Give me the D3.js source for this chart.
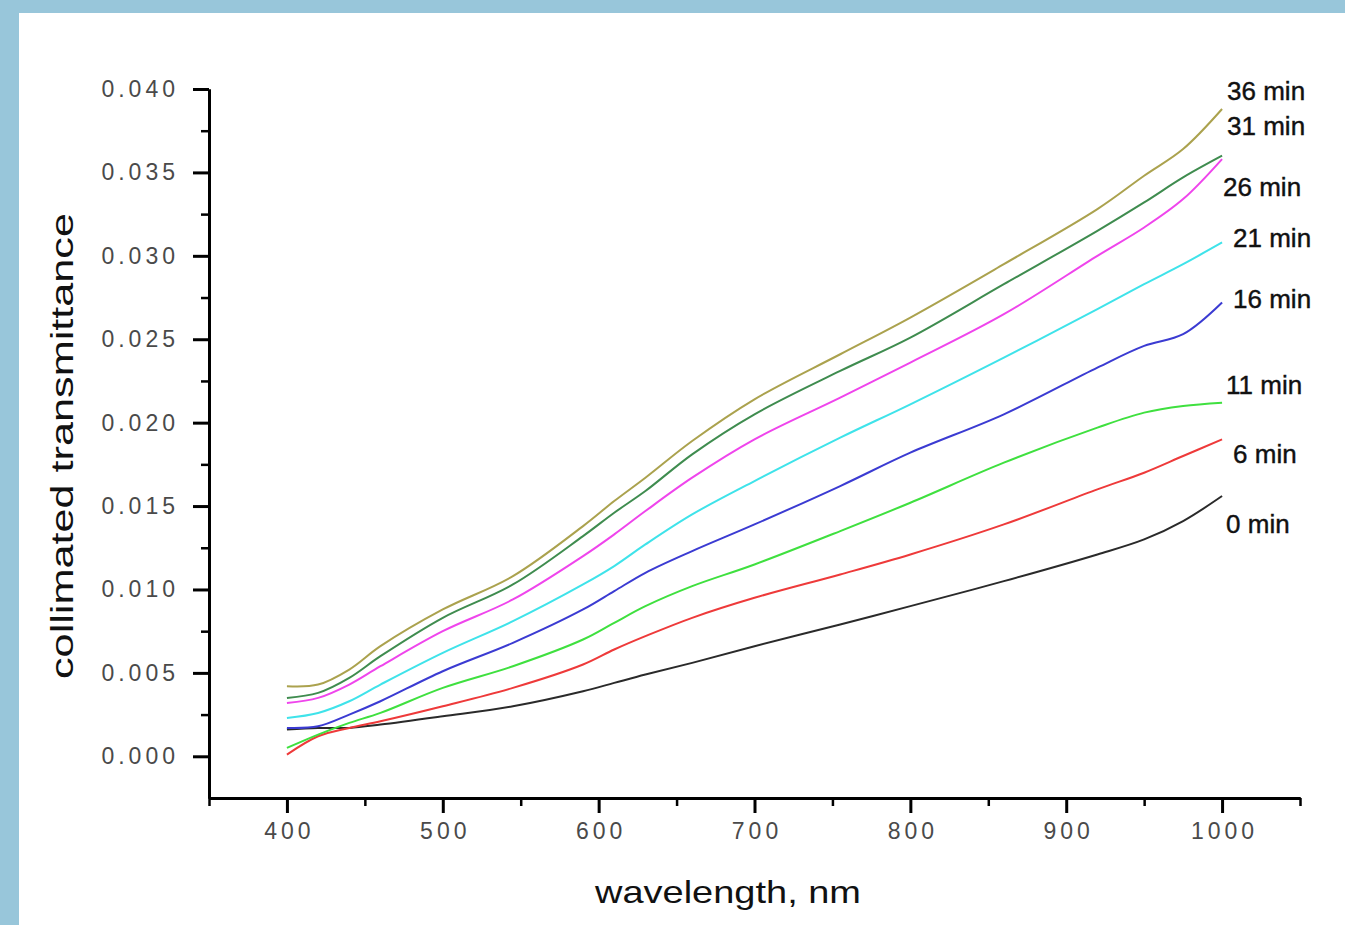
<!DOCTYPE html>
<html>
<head>
<meta charset="utf-8">
<script src="https://cdn.jsdelivr.net/npm/d3@7"></script>
<style>
  body { margin: 0; background: #fff; }
  svg { display: block; }
  .ticklabel { font-family: "Liberation Sans", Arial, sans-serif; font-size: 23px; fill: #4a4a4a; letter-spacing: 4px; }
  .title { font-family: "Liberation Sans", Arial, sans-serif; font-size: 32px; fill: #111; }
  .serieslabel { font-family: "Liberation Sans", Arial, sans-serif; font-size: 26px; fill: #111; stroke: #111; stroke-width: 0.4px; }
</style>
</head>
<body>
<script>
// wavelength, nm
var wavelengths = [400, 420, 440, 460, 500, 545, 590, 610, 630, 660, 700, 755, 800, 860, 920, 950, 975, 1000];

// collimated transmittance, one list per exposure time
var t36 = [0.0042, 0.0043, 0.0052, 0.0066, 0.0088, 0.0108, 0.0138, 0.0153, 0.0167, 0.0189, 0.0214, 0.0241, 0.0263, 0.0295, 0.0328, 0.0348, 0.0364, 0.0388];
var t31 = [0.0035, 0.0038, 0.0047, 0.0060, 0.0083, 0.0103, 0.0132, 0.0146, 0.0159, 0.0181, 0.0205, 0.0231, 0.0251, 0.0283, 0.0315, 0.0332, 0.0347, 0.0360];
var t26 = [0.0032, 0.0035, 0.0043, 0.0054, 0.0075, 0.0094, 0.0120, 0.0133, 0.0147, 0.0167, 0.0190, 0.0215, 0.0236, 0.0265, 0.0300, 0.0317, 0.0334, 0.0358];
var t21 = [0.0023, 0.0026, 0.0033, 0.0043, 0.0062, 0.0081, 0.0103, 0.0114, 0.0127, 0.0145, 0.0165, 0.0191, 0.0211, 0.0239, 0.0268, 0.0283, 0.0295, 0.0308];
var t16 = [0.0017, 0.0018, 0.0025, 0.0033, 0.0051, 0.0068, 0.0088, 0.0099, 0.0110, 0.0123, 0.0139, 0.0162, 0.0182, 0.0205, 0.0233, 0.0246, 0.0253, 0.0272];
var t11 = [0.0005, 0.0013, 0.0020, 0.0026, 0.0041, 0.0054, 0.0070, 0.0080, 0.0090, 0.0102, 0.0115, 0.0135, 0.0152, 0.0176, 0.0197, 0.0206, 0.0210, 0.0212];
var t6  = [0.0001, 0.0012, 0.0017, 0.0021, 0.0030, 0.0041, 0.0055, 0.0064, 0.0072, 0.0083, 0.0095, 0.0109, 0.0121, 0.0139, 0.0160, 0.0170, 0.0180, 0.0190];
var t0  = [0.0016, 0.0017, 0.0017, 0.0019, 0.0024, 0.0030, 0.0039, 0.0044, 0.0049, 0.0056, 0.0066, 0.0079, 0.0090, 0.0105, 0.0121, 0.0130, 0.0141, 0.0156];

var seriesNames = ["36 min", "31 min", "26 min", "21 min", "16 min", "11 min", "6 min", "0 min"];
var seriesValues = [t36, t31, t26, t21, t16, t11, t6, t0];
var seriesColors = ["#aba24e", "#3f8c4f", "#ef45ec", "#3fe3ea", "#3b3bd2", "#3fe03f", "#ee3a3a", "#2a2a2a"];

var xTicks = [400, 500, 600, 700, 800, 900, 1000];
var xMinorTicks = [350, 450, 550, 650, 750, 850, 950, 1050];
var yTicks = [0, 0.005, 0.010, 0.015, 0.020, 0.025, 0.030, 0.035, 0.040];
var yMinorTicks = [0.0025, 0.0075, 0.0125, 0.0175, 0.0225, 0.0275, 0.0325, 0.0375];

var svg = d3.select("body").append("svg")
    .attr("width", 1345)
    .attr("height", 925);

// blue frame of the original picture
svg.append("rect").attr("width", 1345).attr("height", 925).attr("fill", "#98c6da");
svg.append("rect").attr("x", 19).attr("y", 13).attr("width", 1326).attr("height", 912).attr("fill", "#fff");

var margin = { top: 89, right: 45, bottom: 127, left: 209 },
    width = 1345 - margin.left - margin.right,
    height = 925 - margin.top - margin.bottom,
    g = svg.append("g").attr("transform", "translate(" + margin.left + "," + margin.top + ")");

var x = d3.scaleLinear().domain([350, 1050]).range([0, width]);
var y = d3.scaleLinear().domain([-0.0025, 0.040]).range([height, 0]);

var line = d3.line()
    .x(function (d) { return x(d[0]); })
    .y(function (d) { return y(d[1]); })
    .curve(d3.curveCatmullRom.alpha(0.5));

var series = seriesNames.map(function (name, i) {
    return {
        name: name,
        color: seriesColors[i],
        points: wavelengths.map(function (w, j) { return [w, seriesValues[i][j]]; })
    };
});

g.selectAll(".series")
    .data(series.slice().reverse())
    .enter().append("path")
    .attr("class", "series")
    .attr("fill", "none")
    .attr("stroke", function (d) { return d.color; })
    .attr("stroke-width", 2)
    .attr("d", function (d) { return line(d.points); });

// axes
function styleAxis(sel, w) {
    sel.select(".domain").attr("stroke", "#000").attr("stroke-width", 3);
    sel.selectAll(".tick line").attr("stroke", "#000").attr("stroke-width", w);
}

var yAxis = g.append("g")
    .call(d3.axisLeft(y).tickValues(yTicks).tickSize(16).tickSizeOuter(0).tickPadding(14)
        .tickFormat(d3.format(".3f")));
styleAxis(yAxis, 3);
yAxis.selectAll("text").attr("class", "ticklabel").attr("font-family", null).attr("font-size", null).attr("fill", null);

var yMinor = g.append("g")
    .call(d3.axisLeft(y).tickValues(yMinorTicks).tickSize(8).tickSizeOuter(0).tickFormat(""));
styleAxis(yMinor, 2.5);

var xAxis = g.append("g")
    .attr("transform", "translate(0," + height + ")")
    .call(d3.axisBottom(x).tickValues(xTicks).tickSize(15).tickSizeOuter(0).tickPadding(10)
        .tickFormat(d3.format("d")));
styleAxis(xAxis, 3);
xAxis.selectAll("text").attr("class", "ticklabel").attr("font-family", null).attr("font-size", null).attr("fill", null)
    .attr("dx", "2px");

var xMinor = g.append("g")
    .attr("transform", "translate(0," + height + ")")
    .call(d3.axisBottom(x).tickValues(xMinorTicks).tickSize(8).tickSizeOuter(0).tickFormat(""));
styleAxis(xMinor, 2.5);

// series labels at the right end of each curve
var labelShift = [-9, -21, 37, 5, 5, -9, 24, 37];
var labelIndent = [5, 5, 1, 11, 11, 4, 11, 4];
g.selectAll(".serieslabel")
    .data(series)
    .enter().append("text")
    .attr("class", "serieslabel")
    .attr("x", function (d, i) { return x(1000) + labelIndent[i]; })
    .attr("y", function (d, i) { return y(d.points[d.points.length - 1][1]) + labelShift[i]; })
    .text(function (d) { return d.name; });

// axis titles
g.append("text")
    .attr("class", "title")
    .attr("transform", "rotate(-90)")
    .attr("x", -(446 - margin.top))
    .attr("y", 73 - margin.left)
    .attr("text-anchor", "middle")
    .attr("textLength", 466)
    .attr("lengthAdjust", "spacingAndGlyphs")
    .text("collimated transmittance");

g.append("text")
    .attr("class", "title")
    .attr("x", 728 - margin.left)
    .attr("y", 903 - margin.top)
    .attr("text-anchor", "middle")
    .attr("textLength", 266)
    .attr("lengthAdjust", "spacingAndGlyphs")
    .text("wavelength, nm");
</script>
</body>
</html>
